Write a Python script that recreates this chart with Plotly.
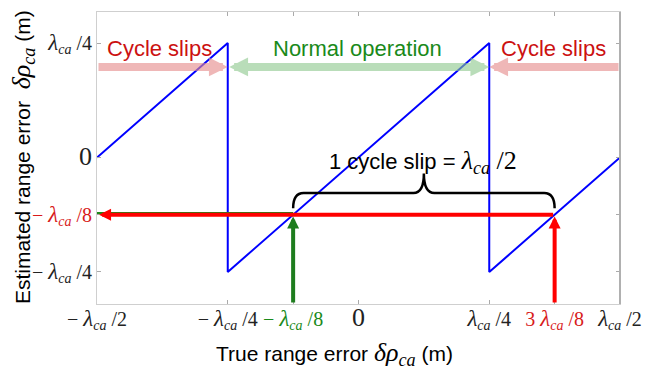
import plotly.graph_objects as go

# Sawtooth: estimated range error vs. true range error (in units of lambda_ca)
true_err = [-0.5, -0.25, -0.25, 0.25, 0.25, 0.5]
est_err = [0.0, 0.25, -0.25, 0.25, -0.25, 0.0]

SERIF = "Liberation Serif, Times New Roman, serif"
SANS = "Liberation Sans, Arial, sans-serif"
RED = "#d81b1b"
GREEN = "#1a8a1a"


def lam(prefix, denom):
    """lambda_ca fraction label, e.g. -λca/4."""
    return (f'{prefix}<span style="font-size:23px"><i>λ</i></span>'
            f"<sub><i>ca</i></sub> /{denom}")


def colored(text, color):
    return f'<span style="color:{color}">{text}</span>'


ZERO = '<span style="font-size:26px">0</span>'

# Tick positions and labels
x_tickvals = [-0.5, -0.25, -0.125, 0.0, 0.25, 0.375, 0.5]
x_ticktext = [lam("− ", 2), lam("− ", 4), colored(lam("− ", 8), GREEN), ZERO,
              lam("", 4), colored(lam("3 ", 8), RED), lam("", 2)]
y_tickvals = [0.25, 0.0, -0.125, -0.25]
y_ticktext = [lam("", 4), ZERO, colored(lam("− ", 8), RED), lam("− ", 4)]

# Reference points for the annotation arrows
x_true = -0.125       # true error inside the normal region
x_slip = 0.375        # same estimate after one cycle slip
y_est = -0.125        # resulting estimate
band_y = 0.198        # level of the region arrows
region_edges = [-0.5, -0.25, 0.25, 0.5]
x_lo, x_hi = -0.5, 0.5
y_lo, y_hi = -0.32, 0.318

fig = go.Figure()
fig.add_trace(go.Scatter(x=true_err, y=est_err, mode="lines",
                         line=dict(color="#0000ff", width=2), showlegend=False,
                         hoverinfo="skip"))

ann = []


def arrow(x, y, ax, ay, color, width, size, head=2, side="end"):
    ann.append(dict(x=x, y=y, ax=ax, ay=ay, xref="x", yref="y", axref="x", ayref="y",
                    text="", showarrow=True, arrowhead=head, arrowsize=size,
                    arrowwidth=width, arrowcolor=color, arrowside=side,
                    startarrowhead=head, startarrowsize=size))


# Region arrows along the top
arrow(region_edges[1], band_y, region_edges[0], band_y, "rgba(230,140,140,0.62)", 8, 0.47)
arrow(region_edges[2], band_y, region_edges[1], band_y, "rgba(140,200,140,0.6)", 8, 0.47,
      side="end+start")
arrow(region_edges[2], band_y, region_edges[3], band_y, "rgba(230,140,140,0.62)", 8, 0.47)

# Mapping arrows
fig.add_trace(go.Scatter(x=[x_true, x_lo], y=[y_est + 0.004, y_est + 0.004], mode="lines",
                         line=dict(color=GREEN, width=2), showlegend=False, hoverinfo="skip"))
arrow(x_true, y_est - 0.004, x_true, y_lo, "#1e7d1e", 4, 0.6)
arrow(x_lo + 0.004, y_est, x_slip, y_est, "#ff0000", 4, 0.6)
arrow(x_slip, y_est - 0.004, x_slip, y_lo, "#ff0000", 4, 0.6)

# Curly brace spanning one cycle slip
b_y, b_end, b_tip = -0.0775, -0.111, -0.035
xm = (x_true + x_slip) / 2
d = 0.02
brace = (f"M {x_true},{b_end} Q {x_true},{b_y} {x_true + d},{b_y} "
         f"L {xm - d},{b_y} Q {xm},{b_y} {xm},{b_tip} "
         f"Q {xm},{b_y} {xm + d},{b_y} L {x_slip - d},{b_y} "
         f"Q {x_slip},{b_y} {x_slip},{b_end}")
fig.add_shape(type="path", path=brace, xref="x", yref="y",
              line=dict(color="black", width=2.5))


def label(x, y, text, color, size=22, font=SANS):
    ann.append(dict(x=x, y=y, xref="x", yref="y", text=text, showarrow=False,
                    font=dict(family=font, size=size, color=color)))


label(-0.38, 0.239, "Cycle slips", "#cc1111")
label(-0.002, 0.239, "Normal operation", GREEN)
label(0.372, 0.239, "Cycle slips", "#cc1111")
label(0.124, -0.01,
      f'1 cycle slip = <span style="font-family:{SERIF};font-size:26px">'
      f'<i>λ</i><sub><i>ca</i></sub> /2</span>',
      "black")

dr = f'<span style="font-family:{SERIF};font-size:26px"><i>δρ</i><sub><i>ca</i></sub></span>'
ann.append(dict(x=-0.045, y=-0.172, xref="x", yref="paper", xanchor="center",
                yanchor="middle", text=f"True range error {dr} (m)",
                showarrow=False, font=dict(family=SANS, size=21, color="black")))
ann.append(dict(x=-0.1415, y=0.503, xref="paper", yref="paper", textangle=-90,
                xanchor="center", yanchor="middle",
                text=f"Estimated range error  {dr} (m)", showarrow=False,
                font=dict(family=SANS, size=21, color="black")))

axis_common = dict(showline=True, linecolor="#cfcfcf", linewidth=1, mirror="ticks",
                   ticks="inside", ticklen=4, tickcolor="#aaaaaa", showgrid=False,
                   zeroline=False, tickfont=dict(family=SERIF, size=20, color="#222222"))

fig.update_layout(
    width=653, height=371,
    margin=dict(l=97, r=33, t=12, b=67),
    paper_bgcolor="white", plot_bgcolor="white",
    xaxis=dict(range=[x_lo, x_hi], tickvals=x_tickvals, ticktext=x_ticktext,
               ticklabelstandoff=-3, **axis_common),
    yaxis=dict(range=[y_lo, y_hi], tickvals=y_tickvals, ticktext=y_ticktext, **axis_common),
    annotations=ann,
)
# Darker right-hand frame edge
fig.add_shape(type="line", xref="paper", yref="paper", x0=1, x1=1, y0=0, y1=1,
              line=dict(color="#b0b0b0", width=2))

fig.write_html("out.html")
